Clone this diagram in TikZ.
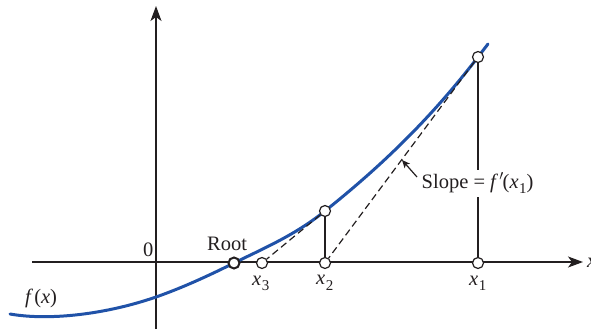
\documentclass[tikz,border=0pt]{standalone}
\usepackage{fontspec}
\setmainfont{Liberation Serif}
\usetikzlibrary{arrows.meta}
\definecolor{curveblue}{RGB}{32,82,168}
\definecolor{ink}{RGB}{35,31,32}
\newcommand\lowsub[1]{\raisebox{-5.5pt}{\fontsize{15}{17}\selectfont #1}}
\newcommand\ivar[1]{\textit{#1}\kern0.5pt}
\begin{document}
\begin{tikzpicture}[x=1pt,y=-1pt,
  axis/.style={draw=ink,line width=1.3pt,-{Stealth[length=15pt,width=11pt,inset=4pt]}},
  pt/.style={circle,draw=ink,fill=white,line width=1.2pt,minimum size=11pt,inner sep=0pt},
  rootpt/.style={pt,line width=2pt},
  lbl/.style={text=ink,inner sep=0pt,anchor=base west,font=\fontsize{20.5}{24}\selectfont},
  tang/.style={draw=ink,line width=1.2pt,dash pattern=on 7pt off 4pt},
  vert/.style={draw=ink,line width=1.6pt}]
\useasboundingbox (0,0) rectangle (591,329);
% axes
\coordinate (xs) at (32,262);
\coordinate (xe) at (583,262);
\coordinate (ys) at (156,329);
\coordinate (ye) at (156,6);
\draw[axis] (xs) -- (xe);
\draw[axis] (ys) -- (ye);
% curve
\draw[curveblue,line width=3pt,line cap=round]
 (10,314) .. controls (50,321) and (107,314) .. (156,297)
 .. controls (182,287.9) and (208,276) .. (234,263)
 .. controls (264.3,248) and (294.7,235.3) .. (325,211)
 .. controls (376,170.2) and (427,123.3) .. (478,57)
 -- (488,44);
% points
\node[pt] (p1) at (478,57) {};
\node[pt] (p2) at (325,211) {};
\node[pt] (x1) at (478,263) {};
\node[pt] (x2) at (325,263) {};
\node[pt] (x3) at (262,263) {};
\node[rootpt] (r) at (234,263) {};
% connectors
\draw[vert] (p1) -- (x1);
\draw[vert] (p2) -- (x2);
\draw[tang] (p1) -- (x2);
\draw[tang] (p2) -- (x3);
% labels
\node[lbl] (zero) at (143,256.5) {0};
\node[lbl] (root) at (207,250.7) {Root};
\node[lbl] (lx3) at (252,285) {\ivar{x}\lowsub{3}};
\node[lbl] (lx2) at (316,284.5) {\ivar{x}\lowsub{2}};
\node[lbl] (lx1) at (469,285) {\ivar{x}\lowsub{1}};
\node[lbl] (fx) at (25,303) {\textit{f}\kern1pt(\textit{x})};
\node[lbl] (xl) at (587,267) {\textit{x}};
\node[lbl,fill=white,inner ysep=3pt,inner xsep=1pt] (slope) at (420.5,188.3) {Slope = \textit{f}\kern1pt$'$\kern-1pt(\ivar{x}\lowsub{1})};
\coordinate (tip) at (402,160);
\draw[draw=ink,line width=1.2pt,-{Stealth[length=8pt,width=7pt,inset=2pt]}] (417,177) -- (tip);
\end{tikzpicture}
\end{document}
